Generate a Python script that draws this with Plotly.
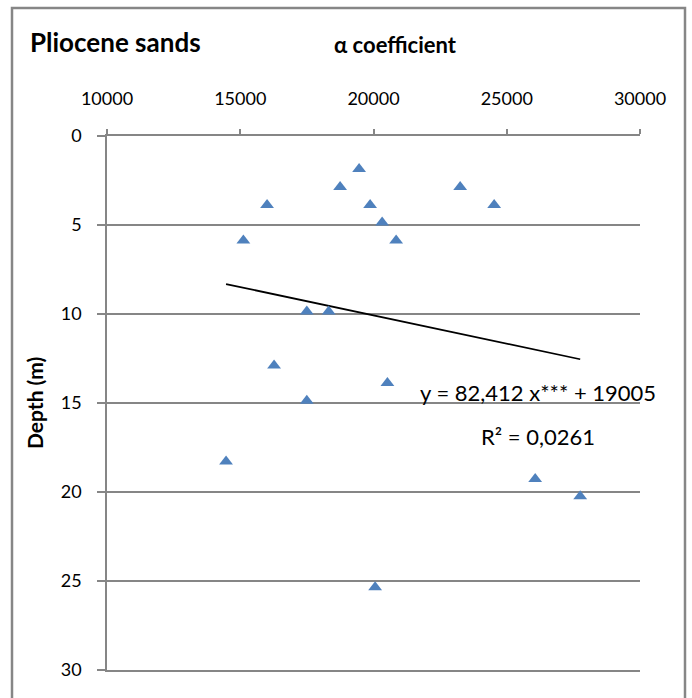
import numpy as np
import plotly.graph_objects as go

# ---- data ----
alpha = [19460, 18747, 23252, 16006, 19873, 24528, 20324, 15117, 20849,
         17497, 18319, 16269, 20522, 17497, 14467, 26067, 27756, 20061]
depth = [1.85, 2.87, 2.87, 3.87, 3.87, 3.87, 4.86, 5.87, 5.87,
         9.86, 9.86, 12.89, 13.88, 14.87, 18.28, 19.27, 20.24, 25.35]
x_ticks = [10000, 15000, 20000, 25000, 30000]
y_ticks = [0, 5, 10, 15, 20, 25, 30]
title_text = "Pliocene sands"
x_title = "α coefficient"
y_title = "Depth (m)"
equation_text = "y = 82,412 x*** + 19005"
r2_text = "R² = 0,0261"

# ---- linear trend (depth vs alpha) over the data range ----
a_arr = np.array(alpha, dtype=float)
d_arr = np.array(depth, dtype=float)
slope, intercept = np.polyfit(a_arr, d_arr, 1)
tx = np.array([a_arr.min(), a_arr.max()])
ty = slope * tx + intercept

W, H = 692, 698
L, R, T, B = 107, 52, 136, 28
pw, ph = W - L - R, H - T - B


def px(xp):
    return (xp - L) / pw


def py(yp):
    return (H - B - yp) / ph


GRAY = "#868686"
FONT = "Lato"

fig = go.Figure()
fig.add_trace(go.Scatter(
    x=tx, y=ty, mode="lines",
    line=dict(color="black", width=1.75),
    hoverinfo="skip", showlegend=False))
fig.add_trace(go.Scatter(
    x=alpha, y=depth, mode="markers",
    marker=dict(symbol="triangle-up", size=12, color="#4F81BD",
                line=dict(width=0)),
    showlegend=False))

fig.update_layout(
    width=W, height=H,
    margin=dict(l=L, r=R, t=T, b=B, pad=0),
    paper_bgcolor="white", plot_bgcolor="white",
    font=dict(family=FONT, size=18, color="black"),
    showlegend=False,
    xaxis=dict(
        side="top", range=[10000, 30000], tickvals=x_ticks,
        ticktext=[str(v) for v in x_ticks],
        showgrid=False, zeroline=False,
        showline=True, linecolor=GRAY, linewidth=1.5, mirror=True,
        ticks="outside", ticklen=5, tickcolor=GRAY, tickwidth=1.5,
        ticklabelstandoff=17,
        tickfont=dict(family=FONT, size=18, color="black"),
    ),
    yaxis=dict(
        range=[30, 0], tickvals=y_ticks,
        ticktext=[str(v) for v in y_ticks],
        showgrid=True, gridcolor=GRAY, gridwidth=1.6, zeroline=False,
        showline=True, linecolor=GRAY, linewidth=1.5,
        ticks="outside", ticklen=8, tickcolor=GRAY, tickwidth=1.5,
        ticklabelstandoff=12,
        tickfont=dict(family=FONT, size=18, color="black"),
    ),
    shapes=[dict(type="rect", xref="paper", yref="paper",
                 x0=px(12), x1=px(685), y0=py(712), y1=py(8),
                 line=dict(color=GRAY, width=2.5), fillcolor="rgba(0,0,0,0)",
                 layer="below")],
    annotations=[
        dict(text=f"<b>{title_text}</b>", xref="paper", yref="paper",
             x=px(28), y=py(42), xanchor="left", yanchor="middle",
             showarrow=False, font=dict(family=FONT, size=26, color="black")),
        dict(text=f"<b>{x_title}</b>", xref="paper", yref="paper",
             x=px(395), y=py(45), xanchor="center", yanchor="middle",
             showarrow=False, font=dict(family=FONT, size=22, color="black")),
        dict(text=f"<b>{y_title}</b>", xref="paper", yref="paper",
             x=px(34), y=py(403), xanchor="center", yanchor="middle",
             textangle=-90, showarrow=False,
             font=dict(family=FONT, size=21, color="black")),
        dict(text=equation_text, xref="paper", yref="paper",
             x=px(538), y=py(392), xanchor="center", yanchor="middle",
             showarrow=False, font=dict(family=FONT, size=22, color="black")),
        dict(text=r2_text, xref="paper", yref="paper",
             x=px(538), y=py(436), xanchor="center", yanchor="middle",
             showarrow=False, font=dict(family=FONT, size=22, color="black")),
    ],
)

fig.write_html("out.html")
